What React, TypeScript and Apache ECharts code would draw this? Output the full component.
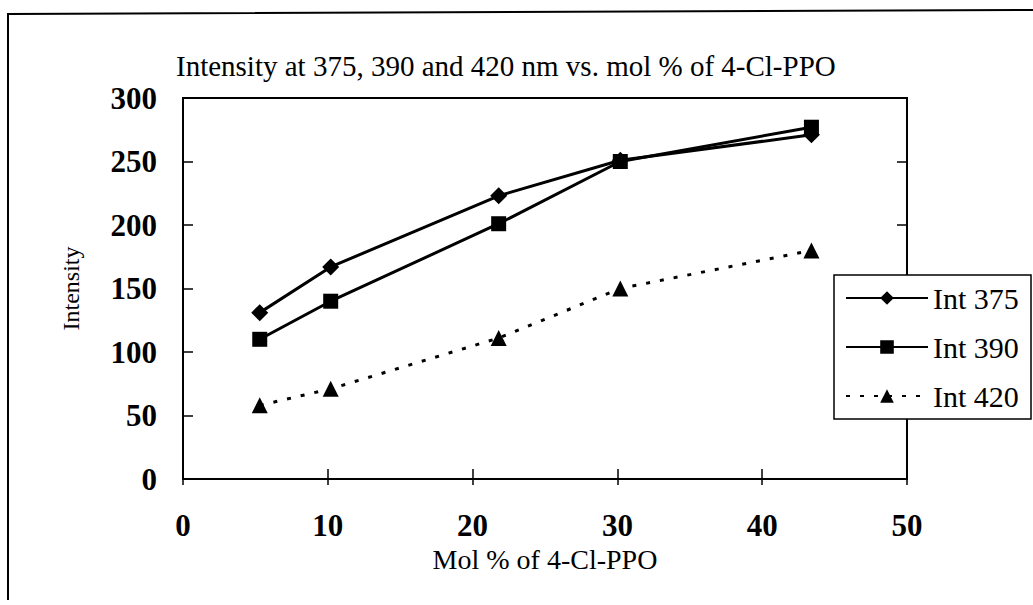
import React, { useEffect, useRef } from "react";
import * as echarts from "echarts";

const molPercent = [5.3, 10.2, 21.8, 30.2, 43.4];
const int375 = [131, 167, 223, 251, 271];
const int390 = [110, 140, 201, 250, 277];
const int420 = [58, 71, 111, 150, 180];
const seriesNames = ["Int 375", "Int 390", "Int 420"];
const titleText = "Intensity at 375, 390 and 420 nm vs. mol % of 4-Cl-PPO";
const xName = "Mol % of 4-Cl-PPO";
const yName = "Intensity";

const FONT = "'Liberation Serif', 'Times New Roman', serif";

export default function App() {
  const ref = useRef<HTMLDivElement>(null);
  useEffect(() => {
    const chart = echarts.init(ref.current as HTMLDivElement, null, { renderer: "svg" });
    const pair = (ys: number[]) => molPercent.map((x, i) => [x, ys[i]]);
    const axisBase = { type: "value", splitLine: { show: false } };
    chart.setOption({
      animation: false,
      backgroundColor: "#fff",
      title: {
        text: titleText,
        left: 176,
        top: 51,
        padding: 0,
        textStyle: { fontFamily: FONT, fontSize: 29, fontWeight: "normal", color: "#000" },
      },
      grid: {
        left: 183,
        top: 98,
        width: 724,
        height: 381,
        show: true,
        borderColor: "#000",
        borderWidth: 2,
        backgroundColor: "transparent",
      },
      xAxis: [
        {
          ...axisBase,
          min: 0,
          max: 50,
          interval: 10,
          position: "bottom",
          axisLine: { show: true, lineStyle: { color: "#000", width: 2 } },
          axisTick: { show: true, inside: true, length: 10, lineStyle: { color: "#000", width: 1.5 } },
          axisLabel: { margin: 31, fontFamily: FONT, fontSize: 31, fontWeight: "bold", color: "#000" },
          name: xName,
          nameLocation: "middle",
          nameGap: 62,
          nameTextStyle: { fontFamily: FONT, fontSize: 28, color: "#000" },
        },
        {
          ...axisBase,
          min: 0,
          max: 50,
          interval: 10,
          position: "top",
          offset: -381,
          axisLine: { show: false },
          axisTick: { show: true, inside: true, length: 6, lineStyle: { color: "#000", width: 1.5 } },
          axisLabel: { show: false },
        },
      ],
      yAxis: [
        {
          ...axisBase,
          min: 0,
          max: 300,
          interval: 50,
          position: "left",
          axisLine: { show: true, lineStyle: { color: "#000", width: 2 } },
          axisTick: { show: true, inside: true, length: 10, lineStyle: { color: "#000", width: 1.5 } },
          axisLabel: { margin: 26, fontFamily: FONT, fontSize: 31, fontWeight: "bold", color: "#000" },
          name: yName,
          nameLocation: "middle",
          nameGap: 100,
          nameTextStyle: { fontFamily: FONT, fontSize: 24, color: "#000" },
        },
        {
          ...axisBase,
          min: 0,
          max: 300,
          interval: 50,
          position: "right",
          offset: -724,
          axisLine: { show: false },
          axisTick: { show: true, inside: true, length: 10, lineStyle: { color: "#000", width: 1.5 } },
          axisLabel: { show: false },
        },
      ],
      legend: {
        orient: "vertical",
        left: 845,
        top: 283,
        padding: 0,
        itemWidth: 82,
        itemHeight: 17,
        itemGap: 19,
        selectedMode: false,
        z: 10,
        data: seriesNames,
        textStyle: { fontFamily: FONT, fontSize: 30, color: "#000", lineHeight: 30 },
      },
      graphic: [
        {
          type: "polyline",
          shape: { points: [[8, 600], [8, 14], [1040, 10]] },
          style: { stroke: "#000", lineWidth: 2, fill: "none" },
          z: 1,
        },
        {
          type: "rect",
          shape: { x: 834, y: 275, width: 197, height: 144 },
          style: { fill: "#fff", stroke: "#000", lineWidth: 1.5 },
          z: 5,
        },
      ],
      series: [
        {
          name: seriesNames[0],
          type: "line",
          data: pair(int375),
          symbol: "diamond",
          symbolSize: 17,
          lineStyle: { color: "#000", width: 3 },
          itemStyle: { color: "#000" },
          z: 3,
        },
        {
          name: seriesNames[1],
          type: "line",
          data: pair(int390),
          symbol: "rect",
          symbolSize: 15,
          lineStyle: { color: "#000", width: 3 },
          itemStyle: { color: "#000" },
          z: 3,
        },
        {
          name: seriesNames[2],
          type: "line",
          data: pair(int420),
          symbol: "triangle",
          symbolSize: 16,
          lineStyle: { color: "#000", width: 3, type: [4, 10] },
          itemStyle: { color: "#000" },
          z: 3,
        },
      ],
    });
    return () => chart.dispose();
  }, []);
  return (
    <div
      ref={ref}
      style={{ position: "fixed", left: 0, top: 0, width: 1033, height: 605, background: "#fff" }}
    />
  );
}
